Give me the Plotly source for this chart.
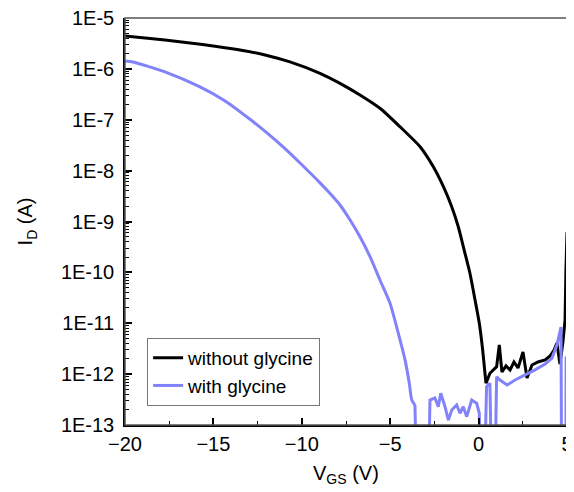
import plotly.graph_objects as go

# without glycine (V_GS in V, I_D in A)
v_without = [-20, -19.15, -17.74, -16.32, -14.91, -13.5, -12.08, -10.67, -8.97, -7.84, -6.71, -5.58, -4.45,
             -3.31, -2.56, -1.99, -1.52, -1.15, -0.77, -0.49, -0.20, 0.04, 0.23, 0.36, 0.42,
             0.64, 1.02, 1.17, 1.32, 1.55, 1.78, 2.0, 2.23, 2.51, 2.74, 3.02, 3.36, 3.76, 4.04, 4.27, 4.43,
             4.60, 4.77, 4.89, 4.94, 5.0]
i_without = [4.43e-6, 4.14e-6, 3.70e-6, 3.23e-6, 2.78e-6, 2.35e-6, 1.88e-6, 1.37e-6, 8.18e-7, 5.20e-7,
             3.07e-7, 1.68e-7, 7.30e-8, 2.95e-8, 1.19e-8, 4.83e-9, 1.95e-9, 7.89e-10, 2.37e-10, 9.59e-11,
             2.86e-11, 9.98e-12, 2.98e-12, 1.04e-12, 6.6e-13,
             1.04e-12, 1.40e-12, 3.74e-12, 1.10e-12, 1.45e-12, 1.21e-12, 1.73e-12, 1.32e-12, 2.72e-12, 8.4e-13,
             1.51e-12, 1.73e-12, 1.90e-12, 2.27e-12, 2.98e-12, 4.09e-12, 1.58e-12, 4.28e-12, 1.16e-11,
             1.11e-10, 6.2e-10]
n_smooth_without = 25  # first points form the smooth transfer curve

# with glycine
v_with = [-20, -19.55, -17.74, -15.76, -14.34, -12.93, -11.97, -10.95, -10.10, -8.97, -8.41, -7.84, -7.27,
          -6.71, -6.14, -5.58, -5.01, -4.54, -4.16, -3.92, -3.78, -3.60,
          -3.40, -2.94, -2.75, -2.47, -2.28, -2.14, -1.90, -1.71, -1.52, -1.24, -1.05, -0.87, -0.67, -0.39,
          -0.11, 0.04, 0.18, 0.20, 0.45, 0.64, 0.83, 0.85, 1.02, 1.21, 1.61, 2.06, 2.62, 3.19, 3.76, 4.15,
          4.43, 4.66, 4.72, 4.92, 4.95, 5.0]
i_with = [1.43e-6, 1.37e-6, 8.7e-7, 4.41e-7, 2.34e-7, 1.02e-7, 5.5e-8, 2.7e-8, 1.41e-8, 5.75e-9, 3.58e-9,
          2.11e-9, 1.07e-9, 5.02e-10, 2.03e-10, 7.08e-11, 2.47e-11, 6.34e-12, 1.90e-12, 6.6e-13, 3.10e-13,
          2.47e-13,
          1e-16, 1e-16, 3.10e-13, 3.40e-13, 2.29e-13, 4.20e-13, 2.29e-13, 1.25e-13, 1.97e-13, 2.47e-13,
          1.70e-13, 2.29e-13, 1.46e-13, 3.10e-13, 2.67e-13, 1.70e-13, 1e-16, 1e-16, 5.66e-13, 6.6e-13,
          1e-16, 1e-16, 8.9e-13, 7.67e-13, 6.1e-13, 7.67e-13, 9.6e-13, 1.21e-12, 1.58e-12, 2.07e-12,
          3.74e-12, 8.4e-12, 1e-16, 1e-16, 2.07e-12, 2.07e-12]
n_smooth_with = 22

y_tickvals = [1e-5, 1e-6, 1e-7, 1e-8, 1e-9, 1e-10, 1e-11, 1e-12, 1e-13]
y_ticktext = ["1E-5", "1E-6", "1E-7", "1E-8", "1E-9", "1E-10", "1E-11", "1E-12", "1E-13"]
x_tickvals = [-20, -15, -10, -5, 0, 5]

FONT = "Liberation Sans, Arial, sans-serif"
BLACK = "black"
BLUE = "#8282FA"

fig = go.Figure()
# smooth parts (spline) + noisy parts (linear), grouped per series
fig.add_trace(go.Scatter(x=v_without[:n_smooth_without], y=i_without[:n_smooth_without], mode="lines",
                         name="without glycine", legendgroup="a", showlegend=True,
                         line=dict(color=BLACK, width=3, shape="spline", smoothing=0.6)))
fig.add_trace(go.Scatter(x=v_without[n_smooth_without - 1:], y=i_without[n_smooth_without - 1:], mode="lines",
                         name="without glycine", legendgroup="a", showlegend=False,
                         line=dict(color=BLACK, width=3)))
fig.add_trace(go.Scatter(x=v_with[:n_smooth_with], y=i_with[:n_smooth_with], mode="lines",
                         name="with glycine", legendgroup="b", showlegend=True,
                         line=dict(color=BLUE, width=3, shape="spline", smoothing=0.6)))
fig.add_trace(go.Scatter(x=v_with[n_smooth_with - 1:], y=i_with[n_smooth_with - 1:], mode="lines",
                         name="with glycine", legendgroup="b", showlegend=False,
                         line=dict(color=BLUE, width=3)))

# page body has an 8px default margin; figure sized so the page does not scroll
fig.update_layout(
    width=566, height=482,
    margin=dict(l=117, r=7, t=10, b=65),
    paper_bgcolor="white", plot_bgcolor="white",
    font=dict(family=FONT, size=20, color="black"),
    showlegend=True,
    legend=dict(x=0.05, y=0.214, xanchor="left", yanchor="top",
                bgcolor="white", bordercolor="#777", borderwidth=1,
                font=dict(size=19, family=FONT), tracegroupgap=0),
    shapes=[dict(type="rect", xref="paper", yref="paper", x0=0, x1=1, y0=0, y1=1,
                 line=dict(color="#555", width=1.5), layer="above")],
    annotations=[
        dict(text="V<sub>GS</sub> (V)", xref="paper", yref="paper", x=0.5, y=-0.085,
             xanchor="center", yanchor="top", showarrow=False, font=dict(size=20, family=FONT)),
        dict(text="I<sub>D</sub> (A)", xref="paper", yref="paper", x=-0.222, y=0.5,
             xanchor="center", yanchor="middle", textangle=-90, showarrow=False,
             font=dict(size=20, family=FONT)),
    ],
)

fig.update_xaxes(range=[-20, 5], tickvals=x_tickvals, ticks="inside", ticklen=7, tickwidth=1.5,
                 tickcolor="black", showline=True, linecolor="black", linewidth=1.5, automargin=False,
                 showgrid=False, zeroline=False, ticklabelstandoff=0, tickfont=dict(size=20),
                 ticklabeloverflow="allow",
                 minor=dict(ticks="inside", ticklen=4, tickwidth=1.2, tickcolor="black", dtick=2.5,
                            showgrid=False))
fig.update_yaxes(type="log", range=[-13, -5], tickvals=y_tickvals, ticktext=y_ticktext,
                 ticks="inside", ticklen=7, tickwidth=1.5, tickcolor="black", automargin=False,
                 showline=True, linecolor="black", linewidth=1.5, showgrid=False, zeroline=False,
                 ticklabelstandoff=5, tickfont=dict(size=20), ticklabeloverflow="allow",
                 minor=dict(ticks="inside", ticklen=4, tickwidth=1.2, tickcolor="black", dtick="D1",
                            showgrid=False))

fig.write_html("out.html")
